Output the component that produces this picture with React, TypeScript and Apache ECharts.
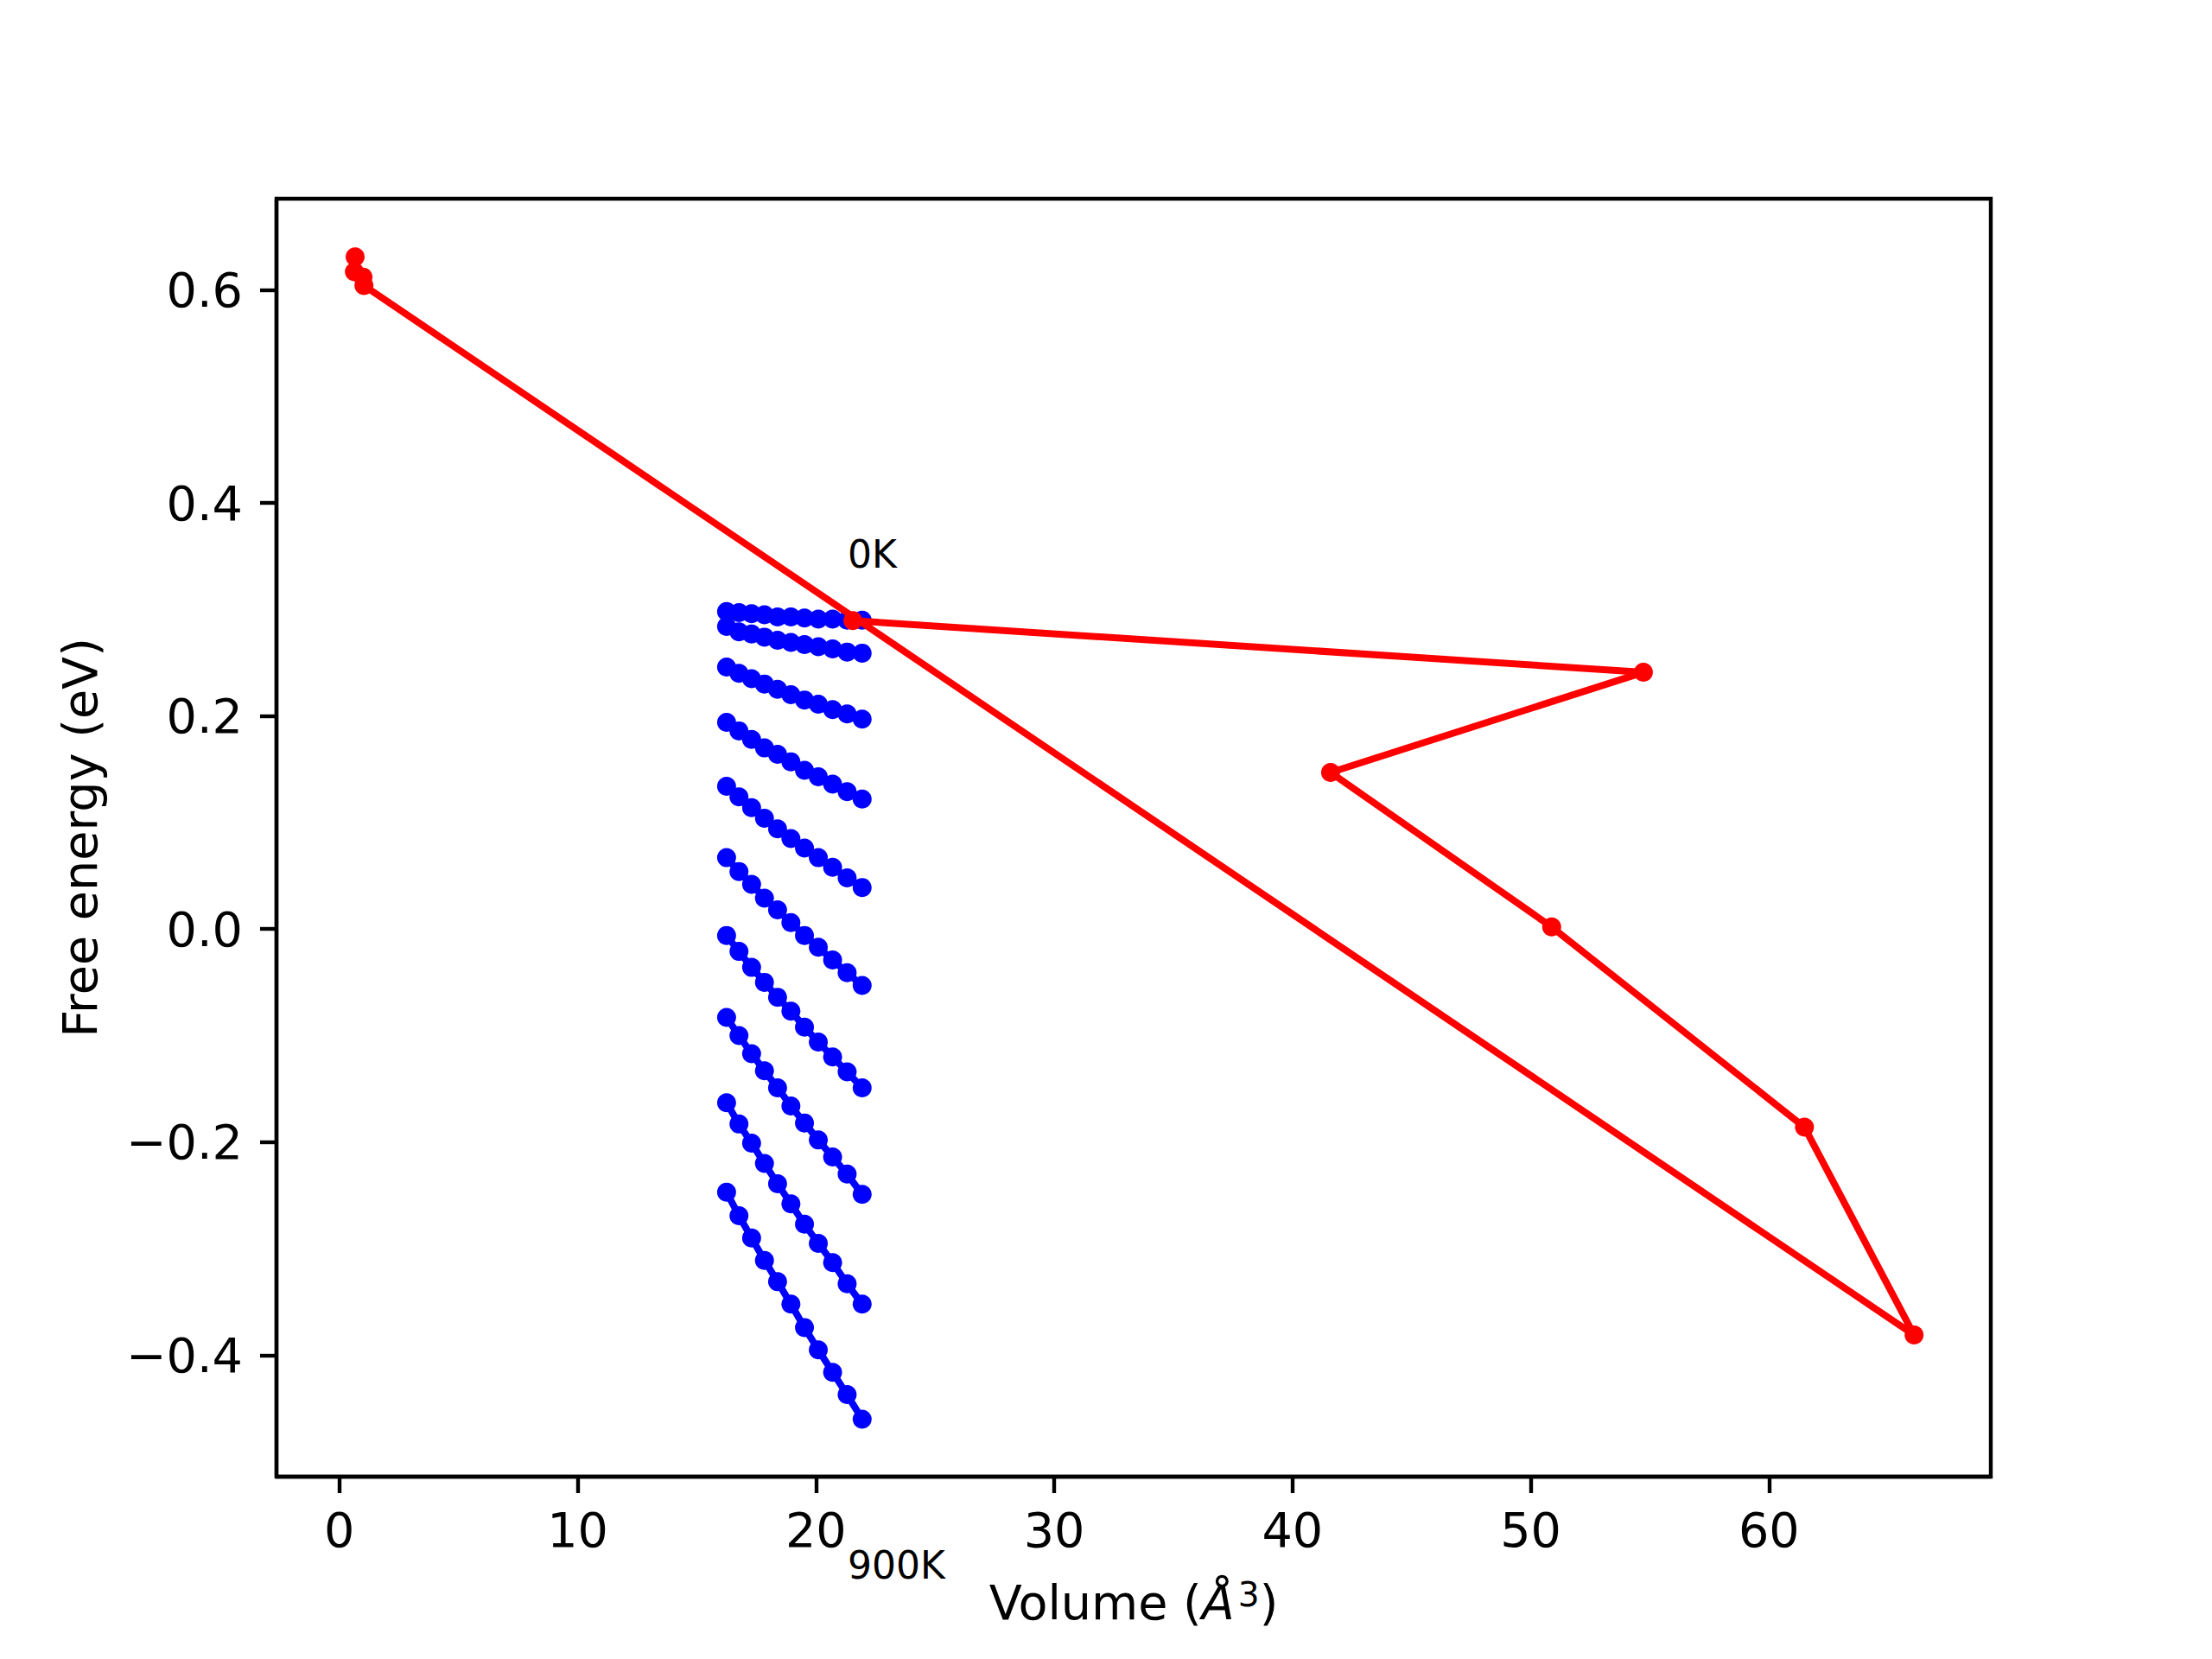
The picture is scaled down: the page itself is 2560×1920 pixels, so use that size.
import React, { useEffect, useRef } from "react";
import * as echarts from "echarts";

// ---- data ----
const volumes = [16.25, 16.77, 17.3, 17.84, 18.39, 18.95, 19.52, 20.1, 20.7, 21.31, 21.94];
const F_0K = [0.298, 0.297, 0.296, 0.295, 0.293, 0.293, 0.292, 0.291, 0.291, 0.29, 0.29];
const F_100K = [0.284, 0.279, 0.277, 0.274, 0.271, 0.269, 0.267, 0.265, 0.263, 0.26, 0.259];
const F_200K = [0.246, 0.24, 0.235, 0.23, 0.225, 0.22, 0.215, 0.211, 0.206, 0.202, 0.197];
const F_300K = [0.194, 0.186, 0.178, 0.17, 0.164, 0.157, 0.149, 0.143, 0.136, 0.129, 0.122];
const F_400K = [0.134, 0.124, 0.114, 0.104, 0.094, 0.085, 0.076, 0.067, 0.058, 0.048, 0.039];
const F_500K = [0.067, 0.054, 0.042, 0.029, 0.018, 0.006, -0.006, -0.017, -0.029, -0.041, -0.053];
const F_600K = [-0.006, -0.021, -0.036, -0.05, -0.064, -0.077, -0.092, -0.106, -0.12, -0.134, -0.149];
const F_700K = [-0.083, -0.1, -0.117, -0.133, -0.149, -0.166, -0.182, -0.198, -0.214, -0.23, -0.249];
const F_800K = [-0.163, -0.183, -0.201, -0.22, -0.239, -0.258, -0.277, -0.295, -0.313, -0.333, -0.352];
const F_900K = [-0.247, -0.269, -0.29, -0.311, -0.331, -0.352, -0.374, -0.395, -0.416, -0.437, -0.46];
const curves = [F_0K, F_100K, F_200K, F_300K, F_400K, F_500K, F_600K, F_700K, F_800K, F_900K];

const redVolume = [0.66, 0.63, 0.99, 1.03, 66.09, 61.49, 50.88, 41.6, 54.73, 21.55];
const redEnergy = [0.631, 0.617, 0.612, 0.604, -0.381, -0.186, 0.002, 0.147, 0.241, 0.2895];

const annotationTexts = ["0K", "900K"];
const annotationX = [21.55, 21.55];
const annotationY = [0.3395, -0.6095];

const xTicks = [0, 10, 20, 30, 40, 50, 60];
const yTicks = [-0.4, -0.2, 0.0, 0.2, 0.4, 0.6];
const X_MIN = -2.64;
const X_MAX = 69.31;
const Y_MIN = -0.514;
const Y_MAX = 0.6855;

const FONT = "DejaVu Sans";

export default function App() {
  const ref = useRef<HTMLDivElement>(null);

  useEffect(() => {
    if (!ref.current) return;
    const chart = echarts.init(ref.current, undefined, { renderer: "svg" });

    const blueSeries = curves.map((F, k) => ({
      type: "line",
      name: `T${k}`,
      data: volumes.map((v, i) => [v, F[i]]),
      symbol: "circle",
      symbolSize: 22,
      showSymbol: true,
      lineStyle: { color: "#0000ff", width: 8 },
      itemStyle: { color: "#0000ff" },
      emphasis: { disabled: true },
      clip: false,
      z: 2,
    }));

    const redSeries = {
      type: "line",
      name: "red",
      data: redVolume.map((v, i) => [v, redEnergy[i]]),
      symbol: "circle",
      symbolSize: 22,
      showSymbol: true,
      lineStyle: { color: "#ff0000", width: 8 },
      itemStyle: { color: "#ff0000" },
      emphasis: { disabled: true },
      clip: false,
      z: 3,
    };

    const tickStyle = { color: "#000", width: 4.4 };

    chart.setOption({
      animation: false,
      backgroundColor: "#ffffff",
      textStyle: { fontFamily: FONT },
      grid: {
        left: 320,
        top: 230,
        width: 1984,
        height: 1479,
        show: true,
        borderColor: "#000",
        borderWidth: 4.4,
        backgroundColor: "transparent",
        containLabel: false,
      },
      xAxis: {
        type: "value",
        min: X_MIN,
        max: X_MAX,
        splitLine: { show: false },
        axisLine: { show: true, onZero: false, lineStyle: tickStyle },
        axisTick: { show: true, length: 19, lineStyle: tickStyle, customValues: xTicks },
        axisLabel: {
          customValues: xTicks,
          margin: 33,
          fontSize: 55.6,
          color: "#000",
          fontFamily: FONT,
          formatter: (v: number) => String(v),
        },
        name: "{n|Volume (}{it|Å}{s|3}{n|)}",
        nameLocation: "middle",
        nameGap: 117,
        nameTextStyle: {
          fontSize: 55.6,
          color: "#000",
          fontFamily: FONT,
          rich: {
            n: { fontSize: 55.6, fontFamily: FONT, color: "#000", verticalAlign: "middle" },
            it: { fontSize: 55.6, fontStyle: "italic", fontFamily: FONT, color: "#000", verticalAlign: "middle" },
            s: { fontSize: 39, fontFamily: FONT, color: "#000", verticalAlign: "top", padding: [0, 0, 0, 4] },
          },
        },
      },
      yAxis: {
        type: "value",
        min: Y_MIN,
        max: Y_MAX,
        splitLine: { show: false },
        axisLine: { show: true, onZero: false, lineStyle: tickStyle },
        axisTick: { show: true, length: 19, lineStyle: tickStyle, customValues: yTicks },
        axisLabel: {
          customValues: yTicks,
          margin: 39,
          fontSize: 55.6,
          color: "#000",
          fontFamily: FONT,
          formatter: (v: number) => v.toFixed(1).replace("-", "\u2212"),
        },
        name: "Free energy (eV)",
        nameLocation: "middle",
        nameRotate: 90,
        nameGap: 200,
        nameTextStyle: { fontSize: 55.6, color: "#000", fontFamily: FONT },
      },
      series: [...blueSeries, redSeries],
    });

    const texts = annotationTexts.map((t, i) => {
      const p = chart.convertToPixel({ gridIndex: 0 }, [annotationX[i], annotationY[i]]) as number[];
      return {
        type: "text",
        x: p[0] - 6,
        y: p[1] - 15,
        z: 10,
        style: {
          text: t,
          fontSize: 44,
          fontFamily: FONT,
          fill: "#000",
          align: "left",
          verticalAlign: "middle",
        },
      };
    });
    chart.setOption({ graphic: texts });

    return () => chart.dispose();
  }, []);

  return (
    <div
      ref={ref}
      style={{ position: "absolute", left: 0, top: 0, width: 2560, height: 1920, background: "#fff" }}
    />
  );
}
